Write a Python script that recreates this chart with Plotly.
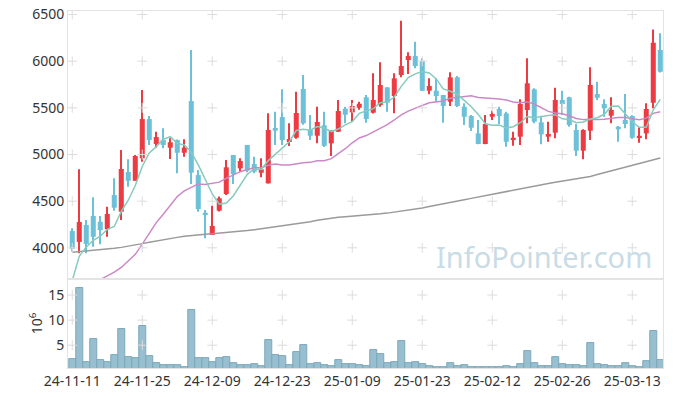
import plotly.graph_objects as go
from plotly.subplots import make_subplots

# ---------------- data ----------------
dates = [
    "24-11-11", "24-11-12", "24-11-13", "24-11-14", "24-11-15", "24-11-18", "24-11-19", "24-11-20", "24-11-21", "24-11-22",
    "24-11-25", "24-11-26", "24-11-27", "24-11-28", "24-11-29", "24-12-02", "24-12-03", "24-12-04", "24-12-05", "24-12-06",
    "24-12-09", "24-12-10", "24-12-11", "24-12-12", "24-12-13", "24-12-16", "24-12-17", "24-12-18", "24-12-19", "24-12-20",
    "24-12-23", "24-12-24", "24-12-26", "24-12-27", "24-12-30", "25-01-02", "25-01-03", "25-01-06", "25-01-07", "25-01-08",
    "25-01-09", "25-01-10", "25-01-13", "25-01-14", "25-01-15", "25-01-16", "25-01-17", "25-01-20", "25-01-21", "25-01-22",
    "25-01-23", "25-01-24", "25-01-31", "25-02-03", "25-02-04", "25-02-05", "25-02-06", "25-02-07", "25-02-10", "25-02-11",
    "25-02-12", "25-02-13", "25-02-14", "25-02-17", "25-02-18", "25-02-19", "25-02-20", "25-02-21", "25-02-24", "25-02-25",
    "25-02-26", "25-02-27", "25-02-28", "25-03-04", "25-03-05", "25-03-06", "25-03-07", "25-03-10", "25-03-11", "25-03-12",
    "25-03-13", "25-03-14", "25-03-17", "25-03-18", "25-03-19",
]

opens = [
    4180, 4063, 4245, 4341, 4280, 4199, 4566, 4387, 4813, 4719,
    4959, 5380, 5113, 5155, 5073, 5155, 5019, 5573, 4780, 4376,
    4138, 4398, 4577, 4995, 4852, 5102, 4898, 4805, 4691, 5284,
    5402, 5134, 5180, 5702, 5263, 5201, 5313, 5120, 5244, 5491,
    5452, 5501, 5613, 5448, 5530, 5720, 5627, 5852, 6013, 6055,
    6005, 5684, 5684, 5638, 5566, 5827, 5512, 5413, 5227, 5113,
    5405, 5488, 5441, 5163, 5191, 5477, 5699, 5345, 5191, 5234,
    5584, 5613, 5263, 5041, 5255, 5648, 5541, 5416, 5298, 5370,
    5413, 5184, 5227, 5555, 6120,
]
highs = [
    4210, 4841, 4298, 4541, 4341, 4441, 4745, 5048, 4949, 4995,
    5691, 5413, 5244, 5281, 5174, 5160, 5163, 6120, 4834, 4405,
    4451, 4550, 4941, 4995, 4960, 5102, 4976, 4959, 5441, 5459,
    5699, 5334, 5673, 5852, 5423, 5512, 5459, 5260, 5584, 5512,
    5584, 5566, 5637, 5870, 5988, 5720, 5870, 6434, 6095, 6209,
    6031, 5816, 5816, 5638, 5881, 5841, 5549, 5423, 5370, 5423,
    5469, 5512, 5459, 5244, 5591, 6031, 5709, 5416, 5351, 5716,
    5684, 5620, 5327, 5270, 5934, 5780, 5591, 5613, 5305, 5648,
    5420, 5291, 5549, 6341, 6299,
]
lows = [
    3960, 3941, 3941, 4012, 4038, 4119, 4398, 4298, 4655, 4719,
    4923, 5102, 5073, 5066, 4952, 4799, 4976, 4684, 4387, 4102,
    4138, 4390, 4566, 4684, 4816, 4810, 4800, 4756, 4690, 5102,
    5102, 5091, 5170, 5320, 5155, 5120, 5080, 4984, 5240, 5334,
    5351, 5480, 5341, 5440, 5512, 5459, 5441, 5827, 5863, 5924,
    5680, 5645, 5566, 5341, 5520, 5510, 5316, 5252, 5110, 5110,
    5370, 5327, 5084, 5094, 5102, 5334, 5334, 5109, 5137, 5174,
    5423, 5298, 4984, 4949, 5155, 5584, 5405, 5334, 5137, 5281,
    5170, 5127, 5163, 5495, 5880,
]
closes = [
    3990, 4277, 4041, 4119, 4191, 4363, 4430, 4845, 4719, 4984,
    5380, 5155, 5187, 5102, 5131, 5019, 5073, 4805, 4416, 4359,
    4234, 4531, 4863, 4791, 4930, 4826, 4816, 4841, 5263, 5255,
    5155, 5166, 5445, 5334, 5201, 5348, 5094, 5255, 5466, 5426,
    5520, 5544, 5380, 5584, 5745, 5555, 5816, 5948, 6055, 5948,
    5684, 5734, 5627, 5520, 5827, 5520, 5405, 5287, 5113, 5327,
    5434, 5413, 5137, 5180, 5541, 5763, 5351, 5216, 5220, 5584,
    5541, 5316, 5041, 5263, 5745, 5609, 5495, 5477, 5270, 5327,
    5180, 5201, 5488, 6198, 5887,
]
# volume in millions of shares
volumes = [
    2.33, 16.5, 1.73, 6.33, 2.13, 1.73, 3.13, 8.33, 2.73, 2.53,
    8.93, 2.93, 1.53, 1.13, 1.13, 1.13, 0.73, 12.13, 2.53, 2.53,
    1.73, 2.53, 2.73, 1.53, 1.13, 1.13, 1.33, 0.93, 6.13, 3.13,
    2.93, 1.13, 3.73, 5.13, 1.33, 1.53, 1.13, 0.93, 2.13, 1.33,
    1.33, 1.13, 0.93, 4.13, 3.33, 1.53, 1.73, 5.93, 1.53, 1.73,
    1.33, 0.93, 0.73, 0.73, 1.53, 0.93, 1.13, 0.73, 0.73, 0.73,
    0.73, 0.73, 0.93, 0.73, 1.33, 3.93, 1.53, 0.93, 0.93, 2.73,
    1.33, 1.13, 1.13, 0.93, 5.53, 1.33, 1.13, 0.93, 0.93, 1.53,
    0.93, 0.73, 1.93, 7.93, 2.13,
]
ma5 = [
    3650, 3910, 4010, 4080, 4124, 4198, 4229, 4390, 4510, 4668,
    4872, 5017, 5085, 5162, 5191, 5119, 5102, 5026, 4889, 4734,
    4577, 4469, 4481, 4556, 4670, 4788, 4845, 4841, 4935, 5000,
    5066, 5136, 5257, 5271, 5260, 5299, 5284, 5246, 5273, 5318,
    5352, 5442, 5467, 5491, 5555, 5562, 5616, 5730, 5824, 5864,
    5890, 5874, 5810, 5703, 5678, 5646, 5580, 5512, 5430, 5330,
    5313, 5315, 5285, 5298, 5341, 5407, 5394, 5410, 5418, 5427,
    5382, 5375, 5340, 5349, 5381, 5395, 5431, 5518, 5519, 5436,
    5350, 5291, 5293, 5479, 5591,
]
ma20 = [
    3560, 3580, 3600, 3630, 3660, 3700, 3740, 3790, 3860, 3930,
    4040, 4150, 4270, 4360, 4460, 4550, 4610, 4650, 4685, 4679,
    4692, 4704, 4745, 4779, 4816, 4839, 4858, 4858, 4885, 4899,
    4888, 4888, 4901, 4913, 4916, 4933, 4934, 4956, 5009, 5062,
    5126, 5177, 5203, 5242, 5283, 5320, 5370, 5425, 5465, 5499,
    5526, 5554, 5563, 5573, 5604, 5612, 5628, 5630, 5612, 5607,
    5603, 5596, 5584, 5564, 5554, 5564, 5541, 5504, 5462, 5444,
    5437, 5416, 5387, 5374, 5370, 5374, 5379, 5388, 5396, 5396,
    5383, 5373, 5390, 5441, 5459,
]
ma120 = [
    3952, 3958, 3965, 3970, 3978, 3986, 3995, 4005, 4016, 4030,
    4045, 4060, 4075, 4088, 4100, 4112, 4125, 4134, 4140, 4145,
    4150, 4156, 4162, 4170, 4178, 4186, 4195, 4205, 4215, 4226,
    4237, 4248, 4260, 4270, 4280, 4295, 4308, 4320, 4328, 4333,
    4338, 4342, 4350, 4357, 4364, 4372, 4382, 4392, 4403, 4415,
    4428, 4442, 4455, 4470, 4485, 4500, 4515, 4530, 4545, 4560,
    4576, 4592, 4607, 4620, 4632, 4645, 4660, 4675, 4690, 4702,
    4714, 4726, 4738, 4750, 4765, 4785, 4805, 4825, 4845, 4865,
    4883, 4900, 4920, 4940, 4962,
]

x_ticks = ["24-11-11", "24-11-25", "24-12-09", "24-12-23", "25-01-09",
           "25-01-23", "25-02-12", "25-02-26", "25-03-13"]
price_ticks = [4000, 4500, 5000, 5500, 6000, 6500]
vol_ticks = [5, 10, 15]

# ---------------- style ----------------
RED = "#ec3b42"
BLUE = "#6cc1d8"
FONT = "Noto Sans"
TXT = "#333333"
FRAME = "#e3e3e3"
CROSS = "#dcdcdc"

fig = make_subplots(rows=2, cols=1, shared_xaxes=True, vertical_spacing=0,
                    row_heights=[268, 89])

# candles drawn as wick + body bars (Korean colours: red = up, blue = down)
for up, col in ((True, RED), (False, BLUE)):
    idx = [i for i in range(len(dates)) if (closes[i] >= opens[i]) == up]
    xs = [dates[i] for i in idx]
    fig.add_trace(go.Bar(
        x=xs, base=[lows[i] for i in idx], y=[highs[i] - lows[i] for i in idx],
        width=0.16, marker=dict(color=col, line=dict(width=0)),
        showlegend=False, hoverinfo="skip"), row=1, col=1)
    fig.add_trace(go.Bar(
        x=xs, base=[min(opens[i], closes[i]) for i in idx],
        y=[max(abs(closes[i] - opens[i]), 8) for i in idx],
        width=0.72, marker=dict(color=col, line=dict(width=0)),
        showlegend=False, hoverinfo="skip"), row=1, col=1)

fig.add_trace(go.Scatter(x=dates, y=ma120, mode="lines", showlegend=False,
                         line=dict(color="#9a9a9a", width=1.5)), row=1, col=1)
fig.add_trace(go.Scatter(x=dates, y=ma20, mode="lines", showlegend=False,
                         line=dict(color="#cc88c6", width=1.5)), row=1, col=1)
fig.add_trace(go.Scatter(x=dates, y=ma5, mode="lines", showlegend=False,
                         line=dict(color="#86cbbd", width=1.5)), row=1, col=1)

fig.add_trace(go.Bar(x=dates, y=volumes, showlegend=False, width=1.0,
                     marker=dict(color="#97bfcf", line=dict(color="#7ca8ba", width=1))),
              row=2, col=1)

# grid "+" marks at tick intersections
fig.add_trace(go.Scatter(
    x=[d for d in x_ticks for _ in price_ticks],
    y=[p for _ in x_ticks for p in price_ticks],
    mode="markers", hoverinfo="skip", showlegend=False,
    marker=dict(symbol="cross-thin", size=7, line=dict(color=CROSS, width=1))),
    row=1, col=1)
fig.add_trace(go.Scatter(
    x=[d for d in x_ticks for _ in vol_ticks],
    y=[v for _ in x_ticks for v in vol_ticks],
    mode="markers", hoverinfo="skip", showlegend=False,
    marker=dict(symbol="cross-thin", size=7, line=dict(color=CROSS, width=1))),
    row=2, col=1)

# page body adds an 8px margin, so the figure is sized/offset to compensate
fig.update_layout(
    width=665, height=389,
    margin=dict(l=60, r=10, t=3, b=29),
    paper_bgcolor="white", plot_bgcolor="white",
    barmode="overlay",
    font=dict(family=FONT, size=13, color=TXT),
    annotations=[dict(
        text="InfoPointer.com", xref="paper", yref="paper",
        x=0.80, y=0.311, xanchor="center", yanchor="middle",
        showarrow=False, font=dict(family=FONT, size=29, color="#c9dce6"))],
)

xr = [-0.61, 84.39]
fig.update_xaxes(type="category", categoryorder="array", categoryarray=dates,
                 range=xr, showgrid=False, zeroline=False, automargin=False,
                 showline=True, mirror=True, linecolor=FRAME, linewidth=1)
fig.update_xaxes(showticklabels=False, row=1, col=1)
fig.update_xaxes(tickmode="array", tickvals=x_ticks, ticktext=x_ticks,
                 tickfont=dict(family=FONT, size=14, color=TXT), tickangle=0,
                 ticklabeloverflow="allow", row=2, col=1)

fig.update_yaxes(range=[3666, 6538], tickvals=price_ticks, showgrid=False,
                 zeroline=False, showline=True, mirror=True, linecolor=FRAME,
                 automargin=False, ticklabeloverflow="allow",
                 tickfont=dict(family=FONT, size=14, color=TXT), row=1, col=1)
fig.update_yaxes(range=[0.46, 18.2], tickvals=vol_ticks, showgrid=False,
                 zeroline=False, showline=True, mirror=True, linecolor=FRAME,
                 automargin=False, ticklabeloverflow="allow",
                 tickfont=dict(family=FONT, size=14, color=TXT),
                 title=dict(text="10<sup>6</sup>", font=dict(family=FONT, size=14, color=TXT),
                            standoff=2),
                 row=2, col=1)

fig.write_html("out.html")
